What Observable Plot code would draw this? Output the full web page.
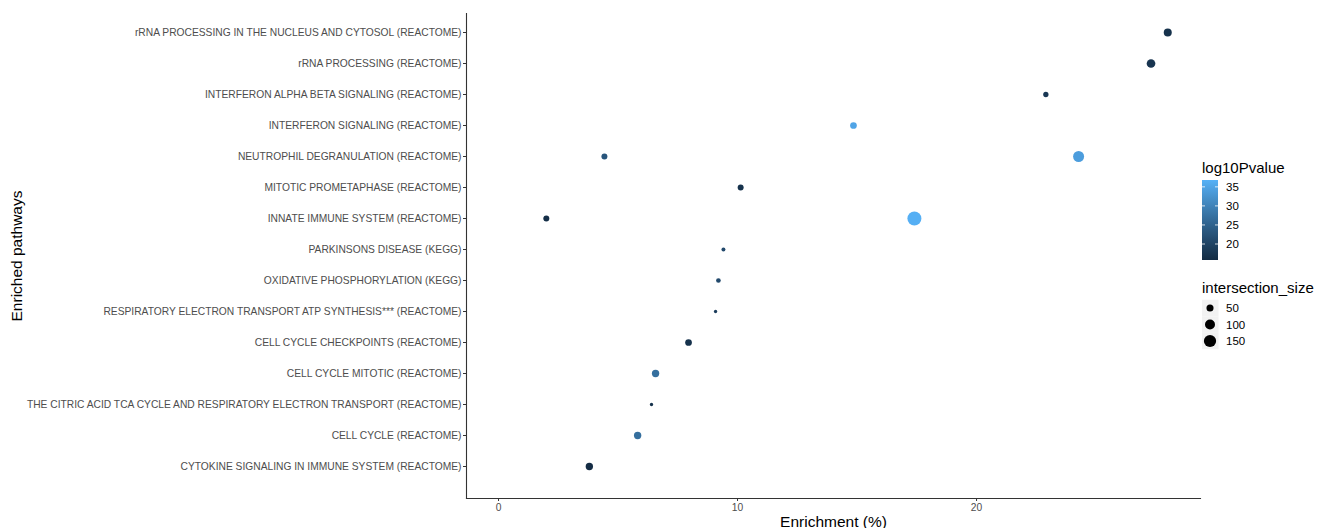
<!DOCTYPE html>
<html><head><meta charset="utf-8">
<script src="https://cdn.jsdelivr.net/npm/d3@7"></script>
<script src="https://cdn.jsdelivr.net/npm/@observablehq/plot@0.6"></script>
<style>
body{margin:0;background:#fff;font-family:"Liberation Sans",Arial,sans-serif}
#chart{position:relative;width:1325px;height:528px}
#chart svg{position:absolute;left:0;top:0}
</style>
</head><body><div id="chart"></div>
<script>
// categories, top to bottom
const pathways = [
  "rRNA PROCESSING IN THE NUCLEUS AND CYTOSOL (REACTOME)",
  "rRNA PROCESSING (REACTOME)",
  "INTERFERON ALPHA BETA SIGNALING (REACTOME)",
  "INTERFERON SIGNALING (REACTOME)",
  "NEUTROPHIL DEGRANULATION (REACTOME)",
  "MITOTIC PROMETAPHASE (REACTOME)",
  "INNATE IMMUNE SYSTEM (REACTOME)",
  "PARKINSONS DISEASE (KEGG)",
  "OXIDATIVE PHOSPHORYLATION (KEGG)",
  "RESPIRATORY ELECTRON TRANSPORT ATP SYNTHESIS*** (REACTOME)",
  "CELL CYCLE CHECKPOINTS (REACTOME)",
  "CELL CYCLE MITOTIC (REACTOME)",
  "THE CITRIC ACID TCA CYCLE AND RESPIRATORY ELECTRON TRANSPORT (REACTOME)",
  "CELL CYCLE (REACTOME)",
  "CYTOKINE SIGNALING IN IMMUNE SYSTEM (REACTOME)"
];
// one entry per point (index into pathways)
const pointPathway    = [0, 1, 2, 3, 4, 4, 5, 6, 6, 7, 8, 9, 10, 11, 12, 13, 14];
const enrichment      = [28.0, 27.3, 22.9, 14.85, 4.43, 24.27, 10.13, 2.0, 17.4, 9.41, 9.2, 9.08, 7.95, 6.57, 6.4, 5.82, 3.8];
const log10Pvalue     = [17, 17.5, 18, 35, 23, 34, 17, 16.5, 36.5, 21, 21, 19, 17, 27, 17, 27, 16];
const intersectionSize= [64, 75, 28, 45, 36, 121, 36, 36, 196, 16, 22, 11, 45, 54, 11, 54, 54];
// tick labels
const xTicks = [0, 10, 20];
const colorTicks = [20, 25, 30, 35];
const sizeTicks = [50, 100, 150];

const data = enrichment.map((e, i) => ({
  pathway: pathways[pointPathway[i]], enrichment: e, logp: log10Pvalue[i], size: intersectionSize[i]
}));

const font = '"Liberation Sans", Arial, sans-serif';
const W = 1325, H = 528;
const mL = 466, mR = 125, mT = 13, mB = 30;

const plot = Plot.plot({
  width: W, height: H,
  marginLeft: mL, marginRight: mR, marginTop: mT, marginBottom: mB,
  style: {fontFamily: font, fontSize: "10.25px", background: "white"},
  x: {domain: [-1.34, 29.37], ticks: xTicks, label: null},
  y: {type: "point", domain: pathways, padding: 0, insetTop: 18, insetBottom: 31, label: null},
  color: {type: "linear", domain: [15.8, 36.8], range: ["#132B43", "#56B1F7"], interpolate: "lab"},
  r: {type: "sqrt", domain: [0, 200], range: [0, Math.sqrt(200) / 2]},
  marks: [
    Plot.axisY({tickSize: 3, tickPadding: 2, fill: "#4d4d4d", stroke: "#333", fontSize: 10.25, label: null}),
    Plot.axisX({ticks: xTicks, tickSize: 3, tickPadding: 2, fill: "#4d4d4d", stroke: "#333", fontSize: 10.25, label: null}),
    Plot.frame({anchor: "left", stroke: "#333", strokeWidth: 1.1}),
    Plot.frame({anchor: "bottom", stroke: "#333", strokeWidth: 1.1}),
    Plot.dot(data, {x: "enrichment", y: "pathway", r: "size", fill: "logp"}),
    Plot.text(["Enrichment (%)"], {text: d => d, frameAnchor: "bottom", dy: 28, fontSize: 15.5, fill: "black"}),
    Plot.text(["Enriched pathways"], {text: d => d, frameAnchor: "left", dx: -449, rotate: -90, textAnchor: "middle", fontSize: 15.5, fill: "black"})
  ]
});
const chart = document.getElementById("chart");
chart.appendChild(plot);

// legends built from the plot's own scales
const colorScale = plot.scale("color");
const rScale = plot.scale("r");
const cs = Plot.scale({color: colorScale});
const rs = Plot.scale({r: rScale});

const svg = d3.select(chart).append("svg").attr("width", W).attr("height", H)
  .style("font-family", font).style("pointer-events", "none");

const lx = 1202;
// color legend
svg.append("text").attr("x", lx).attr("y", 173).attr("font-size", 15).attr("fill", "black").text("log10Pvalue");
const barTop = 180, barBot = 260, barW = 16;
const [d0, d1] = colorScale.domain;
const barY = d3.scaleLinear().domain([d0, d1]).range([barBot, barTop]);
const defs = svg.append("defs");
const grad = defs.append("linearGradient").attr("id", "cbar").attr("x1", 0).attr("x2", 0).attr("y1", 1).attr("y2", 0);
d3.range(0, 1.0001, 0.05).forEach(t => {
  grad.append("stop").attr("offset", t).attr("stop-color", cs.apply(d0 + t * (d1 - d0)));
});
svg.append("rect").attr("x", lx).attr("y", barTop).attr("width", barW).attr("height", barBot - barTop).attr("fill", "url(#cbar)");
colorTicks.forEach(v => {
  const y = barY(v);
  svg.append("line").attr("x1", lx).attr("x2", lx + 3).attr("y1", y).attr("y2", y).attr("stroke", "white").attr("stroke-opacity", 0.8);
  svg.append("line").attr("x1", lx + barW - 3).attr("x2", lx + barW).attr("y1", y).attr("y2", y).attr("stroke", "white").attr("stroke-opacity", 0.8);
  svg.append("text").attr("x", lx + barW + 8).attr("y", y).attr("dy", "0.35em").attr("font-size", 11.5).attr("fill", "black").text(v);
});

// size legend
svg.append("text").attr("x", lx).attr("y", 293).attr("font-size", 15).attr("fill", "black").text("intersection_size");
const keyY = [308, 324.5, 341];
sizeTicks.forEach((v, i) => {
  svg.append("rect").attr("x", lx).attr("y", keyY[i] - 8.25).attr("width", 16.5).attr("height", 16.5).attr("fill", "#f2f2f2");
});
sizeTicks.forEach((v, i) => {
  svg.append("circle").attr("cx", lx + 8).attr("cy", keyY[i]).attr("r", rs.apply(v)).attr("fill", "black");
  svg.append("text").attr("x", lx + barW + 8).attr("y", keyY[i]).attr("dy", "0.35em").attr("font-size", 11.5).attr("fill", "black").text(v);
});
</script>
</body></html>
